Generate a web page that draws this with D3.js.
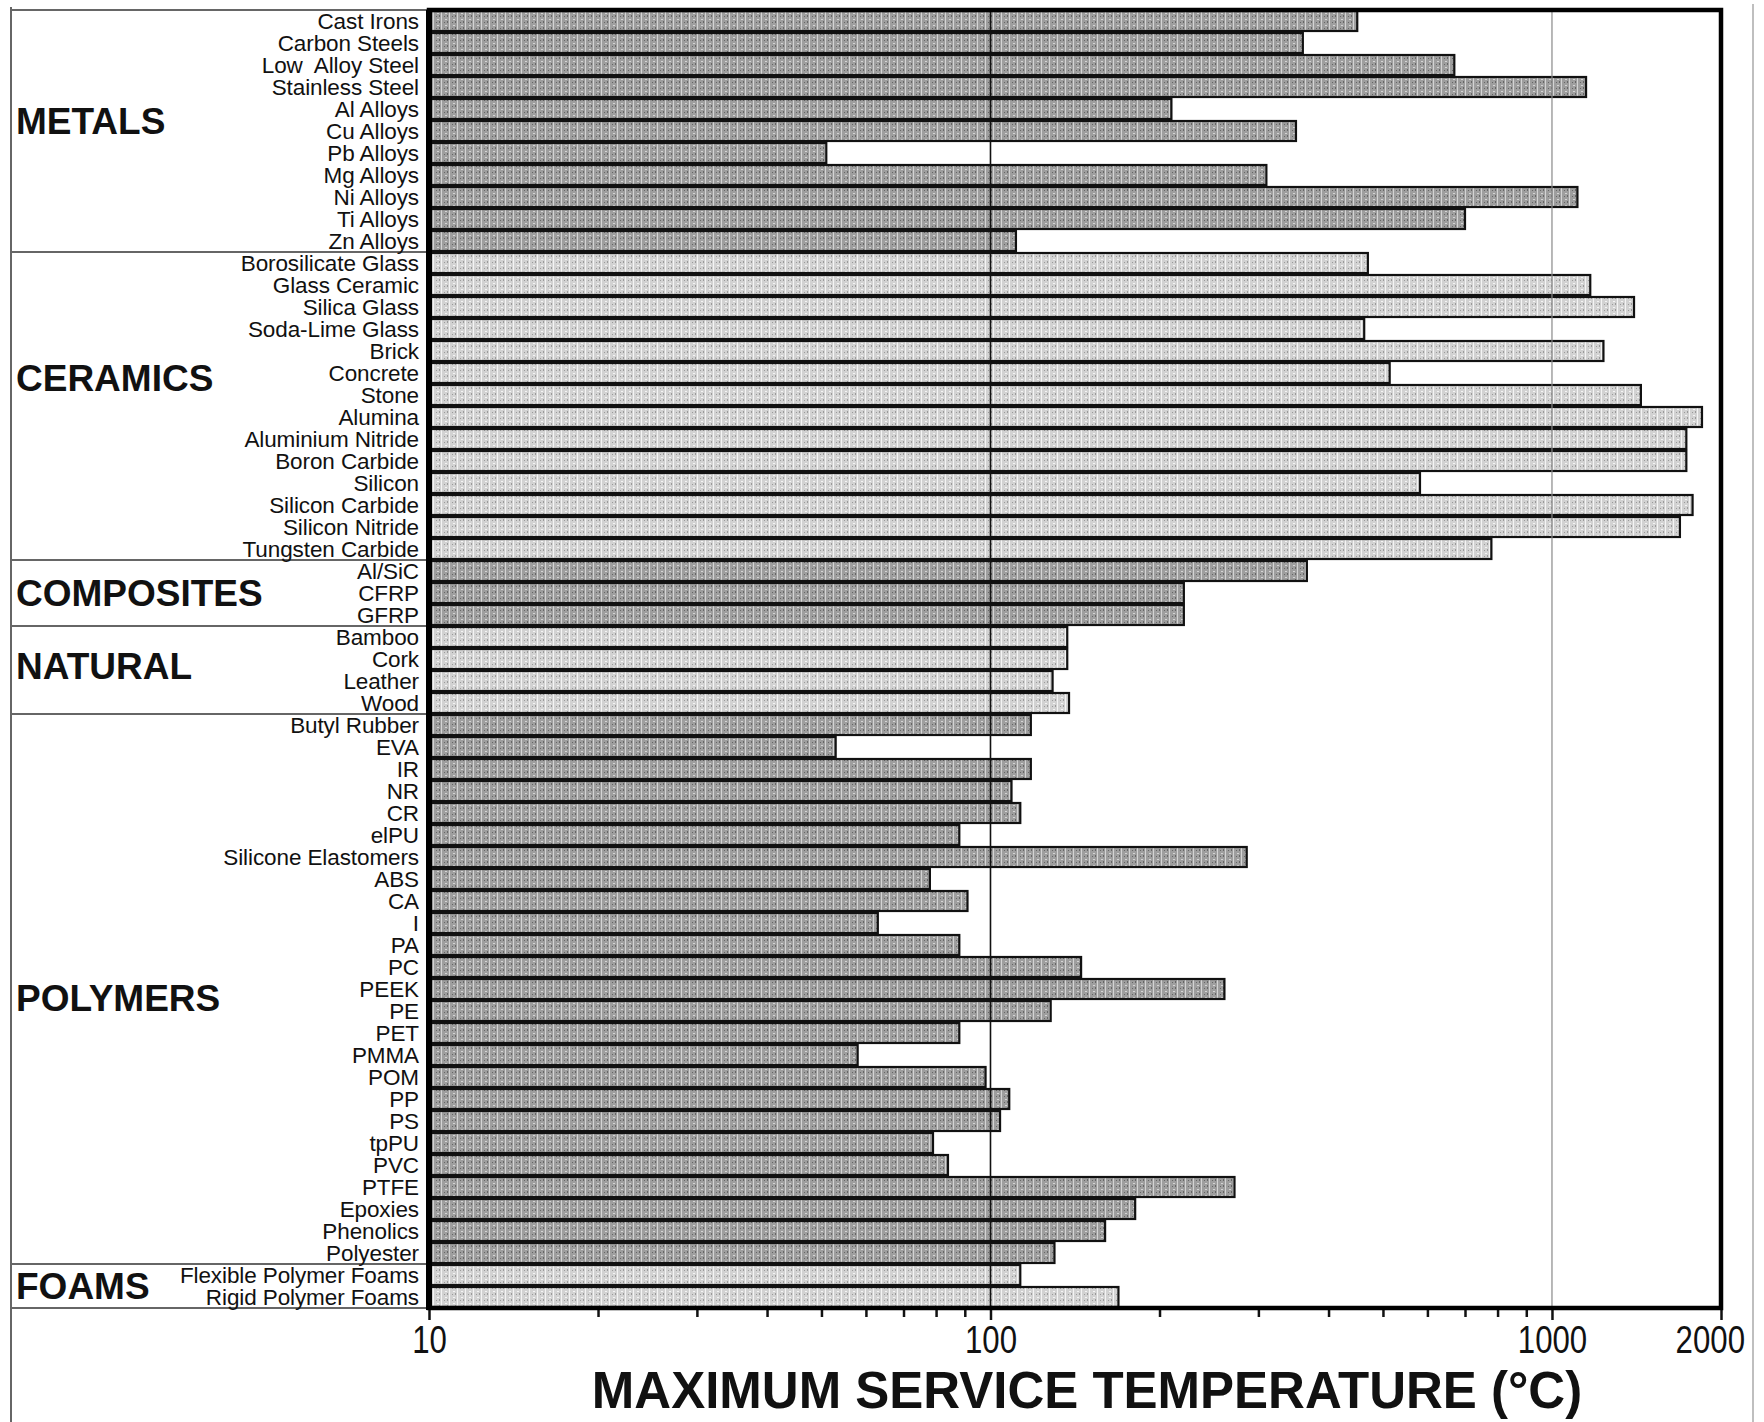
<!DOCTYPE html>
<html>
<head>
<meta charset="utf-8">
<script src="https://cdn.jsdelivr.net/npm/d3@7"></script>
<style>
    body { margin: 0; background: #fff; }
    text { font-family: "Liberation Sans", Arial, sans-serif; fill: #111; }
</style>
</head>
<body>
<script>
// material groups, in drawing order
var groups = ["METALS", "CERAMICS", "COMPOSITES", "NATURAL", "POLYMERS", "FOAMS"];
var groupSizes = [11, 14, 3, 4, 25, 2];
// row position (in rows from the top) where each group name sits
var groupLabelRows = [5.05, 16.7, 26.5, 29.8, 44.9, 58.0];

var materials = [
    "Cast Irons", "Carbon Steels", "Low  Alloy Steel", "Stainless Steel", "Al Alloys",
    "Cu Alloys", "Pb Alloys", "Mg Alloys", "Ni Alloys", "Ti Alloys", "Zn Alloys",
    "Borosilicate Glass", "Glass Ceramic", "Silica Glass", "Soda-Lime Glass", "Brick",
    "Concrete", "Stone", "Alumina", "Aluminium Nitride", "Boron Carbide", "Silicon",
    "Silicon Carbide", "Silicon Nitride", "Tungsten Carbide",
    "Al/SiC", "CFRP", "GFRP",
    "Bamboo", "Cork", "Leather", "Wood",
    "Butyl Rubber", "EVA", "IR", "NR", "CR", "elPU", "Silicone Elastomers", "ABS", "CA",
    "I", "PA", "PC", "PEEK", "PE", "PET", "PMMA", "POM", "PP", "PS", "tpPU", "PVC",
    "PTFE", "Epoxies", "Phenolics", "Polyester",
    "Flexible Polymer Foams", "Rigid Polymer Foams"
];

// maximum service temperature, degC
var maxTemps = [
    450, 360, 670, 1150, 210, 350, 51, 310, 1110, 700, 111,
    470, 1170, 1400, 463, 1235, 514, 1440, 1850, 1735, 1735, 582, 1780, 1690, 780,
    366, 221, 221,
    137, 137, 129, 138,
    118, 53, 118, 109, 113, 88, 286, 78, 91, 63, 88, 145, 261, 128, 88, 58, 98,
    108, 104, 79, 84, 272, 181, 160, 130,
    113, 169
];

var majorTicks = [10, 100, 1000, 2000];
var minorTicks = [20, 30, 40, 50, 60, 70, 80, 90, 200, 300, 400, 500, 600, 700, 800, 900];
var gridTicks = [100, 1000];
var axisTitle = "MAXIMUM SERVICE TEMPERATURE (\u00B0C)";

(function() {
    var w = 1764, h = 1422;
    var plotL = 429, plotR = 1721, plotT = 10, plotB = 1308;

    var svg = d3.select("body")
                .append("svg")
                .attr("width", w)
                .attr("height", h);

    // gray speckled fills, a darker and a lighter one
    var defs = svg.append("defs");
    var makePattern = function(id, base, light, dark) {
        var p = defs.append("pattern")
                    .attr("id", id)
                    .attr("width", 8)
                    .attr("height", 6)
                    .attr("patternUnits", "userSpaceOnUse");
        p.append("rect").attr("width", 8).attr("height", 6).attr("fill", base);
        p.append("rect").attr("x", 1).attr("y", 0).attr("width", 1).attr("height", 6).attr("fill", light);
        p.append("rect").attr("x", 5).attr("y", 1).attr("width", 2).attr("height", 1).attr("fill", light);
        p.append("rect").attr("x", 4).attr("y", 4).attr("width", 1).attr("height", 1).attr("fill", dark);
        p.append("rect").attr("x", 7).attr("y", 3).attr("width", 1).attr("height", 2).attr("fill", dark);
    };
    makePattern("darkFill", "#9e9e9e", "#d4d4d4", "#666");
    makePattern("lightFill", "#d2d2d2", "#f4f4f4", "#9a9a9a");
    var groupFill = ["darkFill", "lightFill", "darkFill", "lightFill", "darkFill", "lightFill"];

    var rowGroup = [];
    groupSizes.forEach(function(n, g) {
        for(var k = 0; k < n; k++) rowGroup.push(g);
    });

    var xScale = d3.scaleLog()
                    .domain([10, 2000])
                    .range([plotL, plotR]);

    var yScale = d3.scaleBand()
                    .domain(d3.range(materials.length))
                    .range([plotT, plotB]);

    var rowScale = d3.scaleLinear()
                    .domain([0, materials.length])
                    .range([plotT, plotB]);

    // left-hand group boxes
    var boxLines = svg.append("g")
                    .attr("stroke", "#666")
                    .attr("stroke-width", 2);

    boxLines.append("line")
            .attr("x1", 11).attr("x2", 11)
            .attr("y1", 7).attr("y2", h);

    var bounds = [0];
    groupSizes.forEach(function(n, g) { bounds.push(bounds[g] + n); });

    boxLines.selectAll("line.sep")
            .data(bounds)
            .enter()
            .append("line")
            .attr("class", "sep")
            .attr("x1", 11)
            .attr("x2", plotL)
            .attr("y1", d => rowScale(d))
            .attr("y2", d => rowScale(d));

    // faint right edge of the figure
    svg.append("line")
        .attr("x1", 1753).attr("x2", 1753)
        .attr("y1", 4).attr("y2", h)
        .attr("stroke", "#aaa")
        .attr("stroke-width", 1.5);

    svg.append("g")
        .selectAll("text")
        .data(groups)
        .enter()
        .append("text")
        .attr("x", 16)
        .attr("y", (d, i) => rowScale(groupLabelRows[i]))
        .attr("dy", "0.36em")
        .attr("font-size", 37)
        .attr("font-weight", "bold")
        .text(d => d);

    // bars
    var barGroup = svg.append("g");
    barGroup.selectAll("rect")
            .data(maxTemps)
            .enter()
            .append("rect")
            .attr("x", xScale(10))
            .attr("y", (d, i) => yScale(i) + 1)
            .attr("width", d => xScale(d) - xScale(10))
            .attr("height", yScale.bandwidth() - 2)
            .attr("fill", (d, i) => "url(#" + groupFill[rowGroup[i]] + ")")
            .attr("stroke", "#111")
            .attr("stroke-width", 2.2);

    // gridlines at 100 and 1000
    svg.append("g")
        .selectAll("line")
        .data(gridTicks)
        .enter()
        .append("line")
        .attr("x1", d => xScale(d))
        .attr("x2", d => xScale(d))
        .attr("y1", plotT)
        .attr("y2", plotB)
        .attr("stroke", d => d == 100 ? "#111" : "#888")
        .attr("stroke-width", d => d == 100 ? 1.6 : 1.2);

    // material names
    svg.append("g")
        .selectAll("text")
        .data(materials)
        .enter()
        .append("text")
        .attr("x", 419)
        .attr("y", (d, i) => yScale(i) + yScale.bandwidth() / 2)
        .attr("dy", "0.36em")
        .attr("text-anchor", "end")
        .attr("font-size", 22.5)
        .attr("letter-spacing", "-0.1")
        .style("white-space", "pre")
        .text(d => d);

    // x axis
    var minorAxis = d3.axisBottom()
                    .scale(xScale)
                    .tickValues(minorTicks)
                    .tickSize(9)
                    .tickFormat("");

    var majorAxis = d3.axisBottom()
                    .scale(xScale)
                    .tickValues(majorTicks)
                    .tickSize(12)
                    .tickPadding(5)
                    .tickFormat(d3.format("d"));

    var gMinor = svg.append("g")
                    .attr("transform", "translate(0," + plotB + ")")
                    .call(minorAxis);

    var gMajor = svg.append("g")
                    .attr("transform", "translate(0," + plotB + ")")
                    .call(majorAxis);

    [gMinor, gMajor].forEach(function(g) {
        g.select(".domain").remove();
        g.selectAll(".tick line").attr("stroke", "#111").attr("stroke-width", 2.5);
    });

    gMajor.selectAll(".tick text")
            .attr("font-size", 39)
            .attr("font-family", "'Liberation Sans', Arial, sans-serif")
            .attr("fill", "#111")
            .attr("transform", "scale(0.8,1)")
            .attr("dx", d => d == 2000 ? -14 : 0);

    // plot frame
    svg.append("rect")
        .attr("x", plotL)
        .attr("y", plotT)
        .attr("width", plotR - plotL)
        .attr("height", plotB - plotT)
        .attr("fill", "none")
        .attr("stroke", "#000")
        .attr("stroke-width", 4.5);

    svg.append("line")
        .attr("x1", plotL).attr("x2", plotL)
        .attr("y1", plotT).attr("y2", plotB + 2)
        .attr("stroke", "#000")
        .attr("stroke-width", 6);

    svg.append("text")
        .attr("x", (plotL + plotR) / 2 + 12)
        .attr("y", 1408)
        .attr("text-anchor", "middle")
        .attr("font-size", 51)
        .attr("font-weight", "bold")
        .text(axisTitle);
})();
</script>
</body>
</html>
